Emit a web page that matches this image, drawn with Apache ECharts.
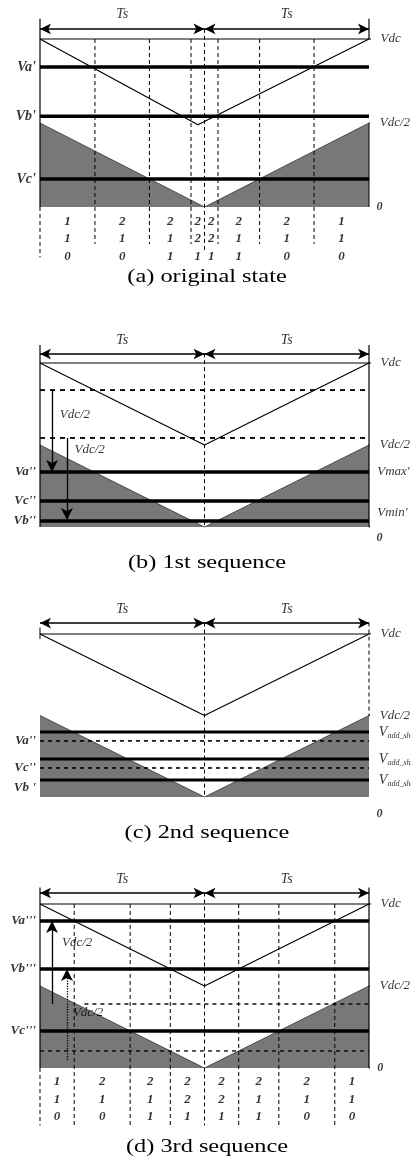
<!DOCTYPE html>
<html>
<head>
<meta charset="utf-8">
<script src="https://cdn.jsdelivr.net/npm/echarts@6/dist/echarts.min.js"></script>
<style>
  html, body { margin: 0; padding: 0; background: #fff; }
  #chart { width: 411px; height: 1162px; }
</style>
</head>
<body>
<div id="chart"></div>
<script>
// --- data (Vdc = 1, one Ts = 1) ---
const carrierUp = [[0, 1], [1, 0.5], [2, 1]];
const carrierUpA = [[0, 1], [0.96, 0.49], [2, 1]];
const carrierLow = [[0, 0.5], [1, 0], [2, 0.5]];

const switchA = [0, 0.334, 0.665, 0.918, 1, 1.082, 1.335, 1.666, 2];
const switchD = [0, 0.208, 0.548, 0.792, 1, 1.208, 1.452, 1.792, 2];
const rowTop = [1, 2, 2, 2, 2, 2, 2, 1];
const rowMid = [1, 1, 1, 2, 2, 1, 1, 1];
const rowBot = [0, 0, 1, 1, 1, 1, 0, 0];
const rowY = [-0.085, -0.19, -0.298];

const levelsA = [0.833, 0.54, 0.167];
const namesA = ["Va'", "Vb'", "Vc'"];
const levelsB = [0.335, 0.159, 0.037];
const namesB = ["Va''", "Vc''", "Vb''"];
const dashedB = [0.835, 0.543];
const levelsC = [0.399, 0.233, 0.104];
const addNames = ['add_sh1', 'add_sh2', 'add_sh3'];
const dashedC = [0.344, 0.178];
const namesC = ["Va''", "Vc''", "Vb '"];
const namesCy = [0.344, 0.178, 0.06];
const levelsD = [0.896, 0.604, 0.226];
const namesD = ["Va'''", "Vb'''", "Vc'''"];
const dashedD = [0.39, 0.104];

const captions = ['(a) original state', '(b) 1st sequence', '(c) 2nd sequence', '(d) 3rd sequence'];

// layout: top = pixel of Vdc, h = pixels from Vdc to 0
const panels = [
  { top: 39, h: 168, cap: 277 },
  { top: 363, h: 164, cap: 563 },
  { top: 634, h: 163, cap: 833 },
  { top: 904, h: 164, cap: 1147 }
];
const yMax = 1.2;
const serif = "'Liberation Serif', 'Times New Roman', serif";

const S = [];
function ln(g, pts, w, type, z) {
  S.push({
    type: 'line', xAxisIndex: g, yAxisIndex: g, data: pts, symbol: 'none',
    clip: false, silent: true, z: z || 3,
    lineStyle: { color: '#000', width: w, type: type || 'solid' }
  });
}
function area(g, pts) {
  S.push({
    type: 'line', xAxisIndex: g, yAxisIndex: g, data: pts, symbol: 'none',
    clip: false, silent: true, z: 1,
    lineStyle: { color: '#333', width: 0.8 },
    areaStyle: { color: '#787878', opacity: 1, origin: 'start' }
  });
}
function txt(g, items, align, size, style, weight, rich) {
  S.push({
    type: 'scatter', xAxisIndex: g, yAxisIndex: g, clip: false, silent: true,
    symbolSize: 1, itemStyle: { color: 'rgba(0,0,0,0)' }, z: 6,
    label: {
      show: true, position: 'inside', align: align, verticalAlign: 'middle',
      color: '#000', fontFamily: serif, fontSize: size,
      fontStyle: style || 'italic', fontWeight: weight || 'normal',
      rich: rich, formatter: p => p.data.t
    },
    data: items.map(d => ({ value: [d[0], d[1]], t: d[2] }))
  });
}
function arrowLine(g, pts, w, type, sym, size) {
  S.push({
    type: 'line', xAxisIndex: g, yAxisIndex: g, data: [], symbol: 'none',
    clip: false, silent: true, z: 4,
    markLine: {
      silent: true, symbol: sym, symbolSize: size,
      label: { show: false }, lineStyle: { color: '#000', width: w, type: type || 'solid' },
      data: pts.map(s => [{ coord: s[0] }, { coord: s[1] }])
    }
  });
}
function tsArrow(g, y) {
  arrowLine(g, [[[0, y], [1, y]], [[1, y], [2, y]]], 1.6, 'solid', ['arrow', 'arrow'], [8, 11]);
  txt(g, [[0.5, y + 0.085, 'Ts'], [1.5, y + 0.085, 'Ts']], 'center', 14);
}
function vArrow(g, x, y1, y2, type) {
  arrowLine(g, [[[x, y1], [x, y2]]], 1.3, type, ['none', 'arrow'], [9, 12]);
}
function rows(g, sw) {
  const mids = [];
  for (let i = 0; i < sw.length - 1; i++) mids.push((sw[i] + sw[i + 1]) / 2);
  [rowTop, rowMid, rowBot].forEach((r, k) => {
    txt(g, r.map((v, i) => [mids[i], rowY[k], String(v)]), 'center', 13, 'italic', 'bold');
  });
}
function vdcLabels(g) {
  ln(g, [[0, 1], [2.06, 1]], 1.2);
  ln(g, [[2, 0.5], [2.05, 0.5]], 1);
  txt(g, [[2.07, 1, 'Vdc'], [2.065, 0.5, 'Vdc/2']], 'left', 13);
}

// (a) original state
area(0, carrierLow);
ln(0, carrierUpA, 1.2);
vdcLabels(0);
levelsA.forEach(v => ln(0, [[0, v], [2, v]], 3.5));
switchA.slice(1, -1).forEach(x => ln(0, x === 1 ? [[x, 1.06], [x, -0.27]] : [[x, 1], [x, -0.22]], 1, [4, 3]));
ln(0, [[0, 1.12], [0, 0]], 1.2);
ln(0, [[0, 0], [0, -0.3]], 1, [4, 3]);
ln(0, [[2, 1.12], [2, 1]], 1.2);
ln(0, [[2, 0.5], [2, 0]], 1);
tsArrow(0, 1.06);
txt(0, levelsA.map((v, i) => [-0.025, v, namesA[i]]), 'right', 14, 'italic', 'bold');
txt(0, [[2.045, 0, '0']], 'left', 12, 'italic', 'bold');
rows(0, switchA);

// (b) 1st sequence
area(1, carrierLow);
ln(1, carrierUp, 1.2);
vdcLabels(1);
dashedB.forEach(v => ln(1, [[0, v], [2, v]], 1.8, [5, 5]));
levelsB.forEach(v => ln(1, [[0, v], [2, v]], 3.5));
ln(1, [[1, 1.06], [1, 0]], 1, [4, 3]);
ln(1, [[0, 1.11], [0, 0]], 1.2);
ln(1, [[2, 1.11], [2, 0]], 1.2);
ln(1, [[2, 0], [2.04, 0]], 1);
tsArrow(1, 1.055);
vArrow(1, 0.073, 0.835, 0.335);
vArrow(1, 0.164, 0.543, 0.043);
txt(1, [[0.12, 0.683, 'Vdc/2'], [0.21, 0.47, 'Vdc/2']], 'left', 13);
txt(1, levelsB.map((v, i) => [-0.025, v, namesB[i]]), 'right', 13, 'italic', 'bold');
txt(1, [[2.05, 0.335, "Vmax'"], [2.05, 0.09, "Vmin'"]], 'left', 13);
txt(1, [[2.045, -0.067, '0']], 'left', 12, 'italic', 'bold');

// (c) 2nd sequence
area(2, carrierLow);
ln(2, carrierUp, 1.2);
vdcLabels(2);
dashedC.forEach(v => ln(2, [[0, v], [2, v]], 1.6, [4, 4]));
levelsC.forEach(v => ln(2, [[0, v], [2, v]], 3));
ln(2, [[1, 1.07], [1, 0]], 1, [4, 3]);
ln(2, [[2, 1.07], [2, 0.5]], 1, [4, 3]);
ln(2, [[0, 1.04], [0, 0.97]], 1);
tsArrow(2, 1.067);
txt(2, namesC.map((n, i) => [-0.025, namesCy[i], n]), 'right', 13, 'italic', 'bold');
txt(2, levelsC.map((v, i) => [2.06, v, '{v|V}{s|' + addNames[i] + '}']), 'left', 14, 'italic', 'normal',
  { v: { fontFamily: serif, fontStyle: 'italic', fontSize: 14 },
    s: { fontFamily: serif, fontStyle: 'italic', fontSize: 8, padding: [7, 0, 0, 0] } });
txt(2, [[2.045, -0.104, '0']], 'left', 12, 'italic', 'bold');

// (d) 3rd sequence
area(3, carrierLow);
ln(3, carrierUp, 1.2);
vdcLabels(3);
ln(3, [[0.27, dashedD[0]], [2, dashedD[0]]], 1.4, [4, 4]);
ln(3, [[0, dashedD[1]], [2, dashedD[1]]], 1.3, [4, 4]);
levelsD.forEach(v => ln(3, [[0, v], [2, v]], 3.5));
switchD.slice(1, -1).forEach(x => ln(3, x === 1 ? [[x, 1.07], [x, -0.35]] : [[x, 1], [x, -0.35]], 1, [4, 3]));
ln(3, [[0, 1.1], [0, 0]], 1.2);
ln(3, [[0, 0], [0, -0.35]], 1, [4, 3]);
ln(3, [[2, 1.1], [2, 0]], 1.2);
ln(3, [[2, 0], [2.04, 0]], 1);
tsArrow(3, 1.067);
vArrow(3, 0.073, 0.39, 0.896);
vArrow(3, 0.164, 0.05, 0.604, 'dotted');
txt(3, [[0.134, 0.762, 'Vdc/2'], [0.2, 0.335, 'Vdc/2']], 'left', 13);
txt(3, levelsD.map((v, i) => [-0.025, v, namesD[i]]), 'right', 13, 'italic', 'bold');
txt(3, [[2.05, 0, '0']], 'left', 12, 'italic', 'bold');
rows(3, switchD);

const chart = echarts.init(document.getElementById('chart'));
chart.setOption({
  animation: false,
  backgroundColor: '#fff',
  grid: panels.map(p => ({ left: 40, width: 329, top: p.top - (yMax - 1) * p.h, height: yMax * p.h })),
  xAxis: panels.map((p, i) => ({ type: 'value', gridIndex: i, min: 0, max: 2, show: false })),
  yAxis: panels.map((p, i) => ({ type: 'value', gridIndex: i, min: 0, max: yMax, show: false })),
  graphic: panels.map((p, i) => ({
    type: 'text', x: 207, y: p.cap, scaleX: 1.28, silent: true,
    style: { text: captions[i], font: '19px ' + serif, fill: '#000', textAlign: 'center', textVerticalAlign: 'middle' }
  })),
  series: S
});
</script>
</body>
</html>
